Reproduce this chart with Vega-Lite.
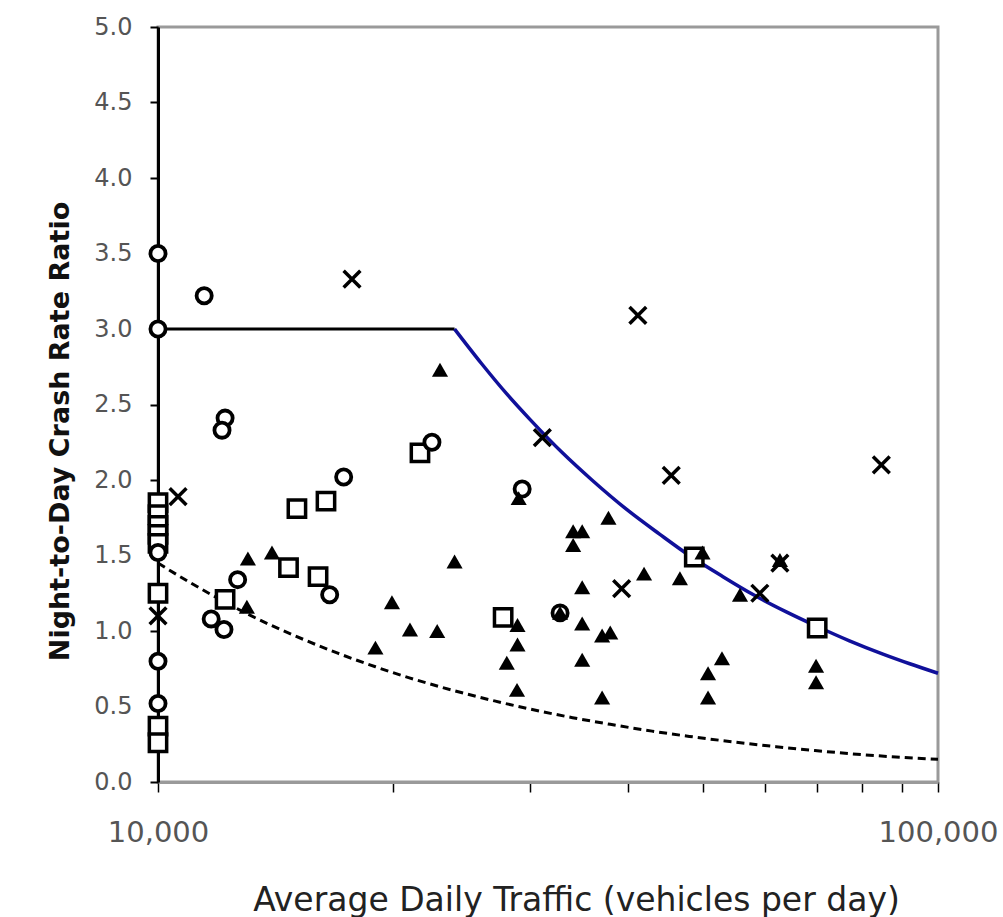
{
  "$schema": "https://vega.github.io/schema/vega-lite/v6.json",
  "width": 780,
  "height": 755,
  "autosize": "none",
  "padding": {"left": 158, "top": 27, "right": 65, "bottom": 135},
  "background": "white",
  "config": {"view": {"stroke": "#9a9a9a", "strokeWidth": 3}, "font": "DejaVu Sans"},
  "datasets": {
    "flat": [{"adt": 10000, "ratio": 3.0}, {"adt": 24000, "ratio": 3.0}],
    "blue": [
      {"adt": 24000, "ratio": 3.0}, {"adt": 26000, "ratio": 2.77}, {"adt": 28000, "ratio": 2.57},
      {"adt": 30000, "ratio": 2.4}, {"adt": 33000, "ratio": 2.18}, {"adt": 36000, "ratio": 2.0},
      {"adt": 40000, "ratio": 1.8}, {"adt": 44000, "ratio": 1.64}, {"adt": 48000, "ratio": 1.5},
      {"adt": 53000, "ratio": 1.36}, {"adt": 58000, "ratio": 1.24}, {"adt": 64000, "ratio": 1.125},
      {"adt": 70000, "ratio": 1.03}, {"adt": 77000, "ratio": 0.935}, {"adt": 85000, "ratio": 0.847},
      {"adt": 92000, "ratio": 0.783}, {"adt": 100000, "ratio": 0.72}
    ],
    "dashed": [
      {"adt": 10000, "ratio": 1.45}, {"adt": 11000, "ratio": 1.32}, {"adt": 12000, "ratio": 1.21},
      {"adt": 13000, "ratio": 1.115}, {"adt": 14000, "ratio": 1.035}, {"adt": 15000, "ratio": 0.967},
      {"adt": 17000, "ratio": 0.853}, {"adt": 19000, "ratio": 0.763}, {"adt": 21000, "ratio": 0.69},
      {"adt": 24000, "ratio": 0.604}, {"adt": 27000, "ratio": 0.537}, {"adt": 30000, "ratio": 0.483},
      {"adt": 34000, "ratio": 0.426}, {"adt": 38000, "ratio": 0.382}, {"adt": 43000, "ratio": 0.337},
      {"adt": 48000, "ratio": 0.302}, {"adt": 55000, "ratio": 0.264}, {"adt": 62000, "ratio": 0.234},
      {"adt": 70000, "ratio": 0.207}, {"adt": 80000, "ratio": 0.181}, {"adt": 90000, "ratio": 0.163},
      {"adt": 100000, "ratio": 0.15}
    ],
    "pts": [
      {"adt": 10000, "ratio": 1.85, "type": "square"},
      {"adt": 10000, "ratio": 1.77, "type": "square"},
      {"adt": 10000, "ratio": 1.70, "type": "square"},
      {"adt": 10000, "ratio": 1.64, "type": "square"},
      {"adt": 10000, "ratio": 1.58, "type": "square"},
      {"adt": 10000, "ratio": 1.25, "type": "square"},
      {"adt": 10000, "ratio": 0.37, "type": "square"},
      {"adt": 10000, "ratio": 0.26, "type": "square"},
      {"adt": 12190, "ratio": 1.21, "type": "square"},
      {"adt": 14700, "ratio": 1.42, "type": "square"},
      {"adt": 15070, "ratio": 1.81, "type": "square"},
      {"adt": 16040, "ratio": 1.36, "type": "square"},
      {"adt": 16420, "ratio": 1.86, "type": "square"},
      {"adt": 21670, "ratio": 2.18, "type": "square"},
      {"adt": 27700, "ratio": 1.09, "type": "square"},
      {"adt": 48700, "ratio": 1.49, "type": "square"},
      {"adt": 70000, "ratio": 1.02, "type": "square"},
      {"adt": 10000, "ratio": 3.5, "type": "circle"},
      {"adt": 10000, "ratio": 3.0, "type": "circle"},
      {"adt": 11460, "ratio": 3.22, "type": "circle"},
      {"adt": 12190, "ratio": 2.41, "type": "circle"},
      {"adt": 12080, "ratio": 2.33, "type": "circle"},
      {"adt": 10000, "ratio": 1.52, "type": "circle"},
      {"adt": 10000, "ratio": 0.80, "type": "circle"},
      {"adt": 10000, "ratio": 0.52, "type": "circle"},
      {"adt": 11700, "ratio": 1.08, "type": "circle"},
      {"adt": 12150, "ratio": 1.01, "type": "circle"},
      {"adt": 12650, "ratio": 1.34, "type": "circle"},
      {"adt": 16600, "ratio": 1.24, "type": "circle"},
      {"adt": 17300, "ratio": 2.02, "type": "circle"},
      {"adt": 22450, "ratio": 2.25, "type": "circle"},
      {"adt": 29300, "ratio": 1.94, "type": "circle"},
      {"adt": 32770, "ratio": 1.12, "type": "circle"},
      {"adt": 13040, "ratio": 1.48, "type": "triangle"},
      {"adt": 14000, "ratio": 1.52, "type": "triangle"},
      {"adt": 13000, "ratio": 1.16, "type": "triangle"},
      {"adt": 19950, "ratio": 1.19, "type": "triangle"},
      {"adt": 19000, "ratio": 0.89, "type": "triangle"},
      {"adt": 21040, "ratio": 1.01, "type": "triangle"},
      {"adt": 22800, "ratio": 1.00, "type": "triangle"},
      {"adt": 22990, "ratio": 2.73, "type": "triangle"},
      {"adt": 24000, "ratio": 1.46, "type": "triangle"},
      {"adt": 28900, "ratio": 1.04, "type": "triangle"},
      {"adt": 28900, "ratio": 0.91, "type": "triangle"},
      {"adt": 28000, "ratio": 0.79, "type": "triangle"},
      {"adt": 28860, "ratio": 0.61, "type": "triangle"},
      {"adt": 29000, "ratio": 1.88, "type": "triangle"},
      {"adt": 34060, "ratio": 1.66, "type": "triangle"},
      {"adt": 34980, "ratio": 1.66, "type": "triangle"},
      {"adt": 34060, "ratio": 1.57, "type": "triangle"},
      {"adt": 37800, "ratio": 1.75, "type": "triangle"},
      {"adt": 34980, "ratio": 1.29, "type": "triangle"},
      {"adt": 32770, "ratio": 1.12, "type": "triangle"},
      {"adt": 34980, "ratio": 1.05, "type": "triangle"},
      {"adt": 37100, "ratio": 0.97, "type": "triangle"},
      {"adt": 38000, "ratio": 0.99, "type": "triangle"},
      {"adt": 34980, "ratio": 0.81, "type": "triangle"},
      {"adt": 37100, "ratio": 0.56, "type": "triangle"},
      {"adt": 41990, "ratio": 1.38, "type": "triangle"},
      {"adt": 46680, "ratio": 1.35, "type": "triangle"},
      {"adt": 49900, "ratio": 1.52, "type": "triangle"},
      {"adt": 55740, "ratio": 1.24, "type": "triangle"},
      {"adt": 52850, "ratio": 0.82, "type": "triangle"},
      {"adt": 50720, "ratio": 0.72, "type": "triangle"},
      {"adt": 50720, "ratio": 0.56, "type": "triangle"},
      {"adt": 69770, "ratio": 0.77, "type": "triangle"},
      {"adt": 69770, "ratio": 0.66, "type": "triangle"},
      {"adt": 62710, "ratio": 1.47, "type": "triangle"},
      {"adt": 17730, "ratio": 3.33, "type": "cross"},
      {"adt": 41230, "ratio": 3.09, "type": "cross"},
      {"adt": 31100, "ratio": 2.28, "type": "cross"},
      {"adt": 45500, "ratio": 2.03, "type": "cross"},
      {"adt": 84600, "ratio": 2.10, "type": "cross"},
      {"adt": 10610, "ratio": 1.89, "type": "cross"},
      {"adt": 10000, "ratio": 1.10, "type": "cross"},
      {"adt": 39300, "ratio": 1.28, "type": "cross"},
      {"adt": 62700, "ratio": 1.45, "type": "cross"},
      {"adt": 59100, "ratio": 1.25, "type": "cross"}
    ]
  },
  "encoding": {
    "x": {
      "field": "adt", "type": "quantitative",
      "scale": {"type": "log", "domain": [10000, 100000], "nice": false},
      "axis": {
        "title": "Average Daily Traffic (vehicles per day)",
        "values": [10000, 20000, 30000, 40000, 50000, 60000, 70000, 80000, 90000, 100000],
        "labelExpr": "datum.value == 10000 || datum.value == 100000 ? format(datum.value, ',') : ''",
        "grid": false,
        "domain": true, "domainColor": "#9a9a9a", "domainWidth": 3,
        "ticks": true, "tickColor": "#000", "tickWidth": 1.5, "tickSize": 10,
        "labelFont": "DejaVu Sans", "labelFontSize": 29, "labelColor": "#555",
        "labelPadding": 26, "labelFlush": false, "labelOverlap": false,
        "titleFont": "DejaVu Sans", "titleFontSize": 33, "titleFontWeight": "normal",
        "titleColor": "#222", "titleX": 418, "titleY": 118, "titleAlign": "center", "titleBaseline": "middle"
      }
    },
    "y": {
      "field": "ratio", "type": "quantitative",
      "scale": {"domain": [0, 5], "nice": false, "zero": false},
      "axis": {
        "title": "Night-to-Day Crash Rate Ratio",
        "values": [0, 0.5, 1, 1.5, 2, 2.5, 3, 3.5, 4, 4.5, 5],
        "format": ".1f",
        "grid": false,
        "domainColor": "#000", "domainWidth": 3,
        "tickColor": "#000", "tickWidth": 2, "tickSize": 8,
        "labelFont": "DejaVu Sans", "labelFontSize": 24, "labelColor": "#555",
        "labelPadding": 18, "labelFlush": false,
        "titleFont": "DejaVu Sans", "titleFontSize": 27, "titleFontWeight": "bold", "titleColor": "#111",
        "titleX": -98, "titleY": 404, "titleAngle": -90, "titleAlign": "center", "titleBaseline": "middle"
      }
    }
  },
  "layer": [
    {"data": {"name": "flat"}, "mark": {"type": "line", "color": "#000", "strokeWidth": 3}},
    {"data": {"name": "blue"}, "mark": {"type": "line", "color": "#10109a", "strokeWidth": 3.5, "interpolate": "monotone"}},
    {"data": {"name": "dashed"}, "mark": {"type": "line", "color": "#000", "strokeWidth": 3, "strokeDash": [8, 5], "interpolate": "monotone"}},
    {"data": {"name": "pts"}, "transform": [{"filter": "datum.type == 'square'"}],
     "mark": {"type": "point", "shape": "square", "fill": "white", "stroke": "#000", "strokeWidth": 3.5, "size": 300, "opacity": 1, "fillOpacity": 1}},
    {"data": {"name": "pts"}, "transform": [{"filter": "datum.type == 'circle'"}],
     "mark": {"type": "point", "shape": "circle", "fill": "white", "stroke": "#000", "strokeWidth": 3.8, "size": 230, "opacity": 1, "fillOpacity": 1}},
    {"data": {"name": "pts"}, "transform": [{"filter": "datum.type == 'triangle'"}],
     "mark": {"type": "point", "shape": "triangle-up", "filled": true, "color": "#000", "size": 260, "opacity": 1}},
    {"data": {"name": "pts"}, "transform": [{"filter": "datum.type == 'cross'"}],
     "mark": {"type": "point", "shape": "M-1,-1L1,1M-1,1L1,-1", "filled": false, "stroke": "#000", "strokeWidth": 3.5, "size": 280, "opacity": 1}}
  ]
}
